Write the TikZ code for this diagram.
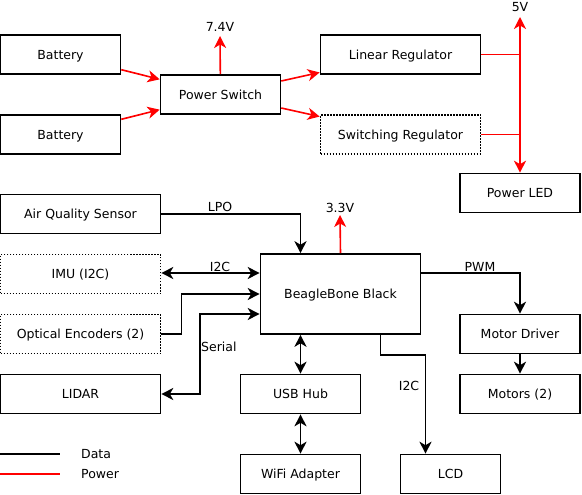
\documentclass[tikz,border=0pt]{standalone}
\usepackage{fontspec}
\setmainfont{DejaVu Sans}
\usetikzlibrary{arrows.meta,calc}
\begin{document}
\begin{tikzpicture}[x=1pt,y=-1pt,
  every node/.style={font=\fontsize{12.5}{15}\selectfont,text height=9.1pt,text depth=0pt},
  box/.style={draw,line width=1.6pt,minimum width=#1,minimum height=39pt,inner sep=0pt},
  dbox/.style={box=#1,dash pattern=on 1.5pt off 1.5pt},
  lbl/.style={inner sep=0pt},
  >={Stealth[length=12pt,width=12pt,inset=3.5pt]},
  dl/.style={line width=1.6pt,black},
  pw/.style={line width=1.6pt,red}]
\useasboundingbox (0,0) rectangle (582,495);
% power section
\node[box=120] (bat1) at (60.5,54.5) {Battery};
\node[box=120] (bat2) at (60.5,134.5) {Battery};
\node[box=120] (ps) at (220.5,94.5) {Power Switch};
\node[box=160] (lin) at (400.5,54.5) {Linear Regulator};
\node[dbox=160] (sw) at (400.5,134.5) {Switching Regulator};
\node[box=120] (led) at (520,193) {Power LED};
\node[lbl] (v74) at (220,27) {7.4V};
\node[lbl] (v5) at (520,7) {5V};
\coordinate (v74t) at (220,36);
\coordinate (v5t) at (520,17);
\draw[pw,->] (bat1) -- (ps);
\draw[pw,->] (bat2) -- (ps);
\draw[pw,->] (ps) -- (lin);
\draw[pw,->] (ps) -- (sw);
\draw[pw,->] (ps) -- (v74t);
\draw[pw,<->] (v5t) -- (led);
\draw[pw] (lin.east) -- (lin.east -| led.north);
\draw[pw] (sw.east) -- (sw.east -| led.north);
% data section
\node[box=160] (aqs) at (80.5,214) {Air Quality Sensor};
\node[dbox=160] (imu) at (80.5,274) {IMU (I2C)};
\node[dbox=160] (opt) at (80.5,334) {Optical Encoders (2)};
\node[box=160] (lidar) at (80.5,394) {LIDAR};
\node[box=160,minimum height=80pt] (bbb) at (340.5,294) {BeagleBone Black};
\node[box=120] (usb) at (300.5,394) {USB Hub};
\node[box=120] (wifi) at (300.5,474) {WiFi Adapter};
\node[box=100] (lcd) at (450.5,474) {LCD};
\node[box=120] (md) at (520,334) {Motor Driver};
\node[box=120] (mot) at (520,394) {Motors (2)};
\node[lbl] (v33) at (340,208) {3.3V};
\coordinate (v33t) at (340,215);
\draw[pw,->] (bbb.north) -- (v33t);
\node[lbl] (lpo) at (220,207) {LPO};
\node[lbl] (i2ca) at (220,267) {I2C};
\node[lbl,anchor=west] (ser) at (201,347) {Serial};
\node[lbl] (pwm) at (480,267) {PWM};
\node[lbl] (i2cb) at (409,386) {I2C};
\draw[dl,->] (aqs.east) -| ([xshift=-40pt]bbb.north);
\draw[dl,<->] ([yshift=1pt]imu.east) -- ([yshift=1pt]imu.east -| bbb.west);
\draw[dl,->] (opt.east) -- ++(20,0) |- (bbb.west);
\draw[dl,<->] ([yshift=-20pt]bbb.west) -- ++(-60,0) |- (lidar.east);
\draw[dl,<->] (usb.north |- bbb.south) -- (usb.north);
\draw[dl,<->] (usb) -- (wifi);
\draw[dl,->] ([xshift=40pt]bbb.south) -- ++(0,20) -| ([xshift=-25pt]lcd.north);
\draw[dl,->] ([yshift=21pt]bbb.east) -| (md.north);
\draw[dl,->] (md) -- (mot);
% legend
\coordinate (lg1) at (0,454);
\coordinate (lg2) at (60,454);
\coordinate (lg3) at (0,474);
\coordinate (lg4) at (60,474);
\draw[dl] (lg1) -- (lg2);
\draw[pw] (lg3) -- (lg4);
\node[lbl,anchor=west] (ldata) at (81,454) {Data};
\node[lbl,anchor=west] (lpow) at (81,474) {Power};
\end{tikzpicture}
\end{document}
